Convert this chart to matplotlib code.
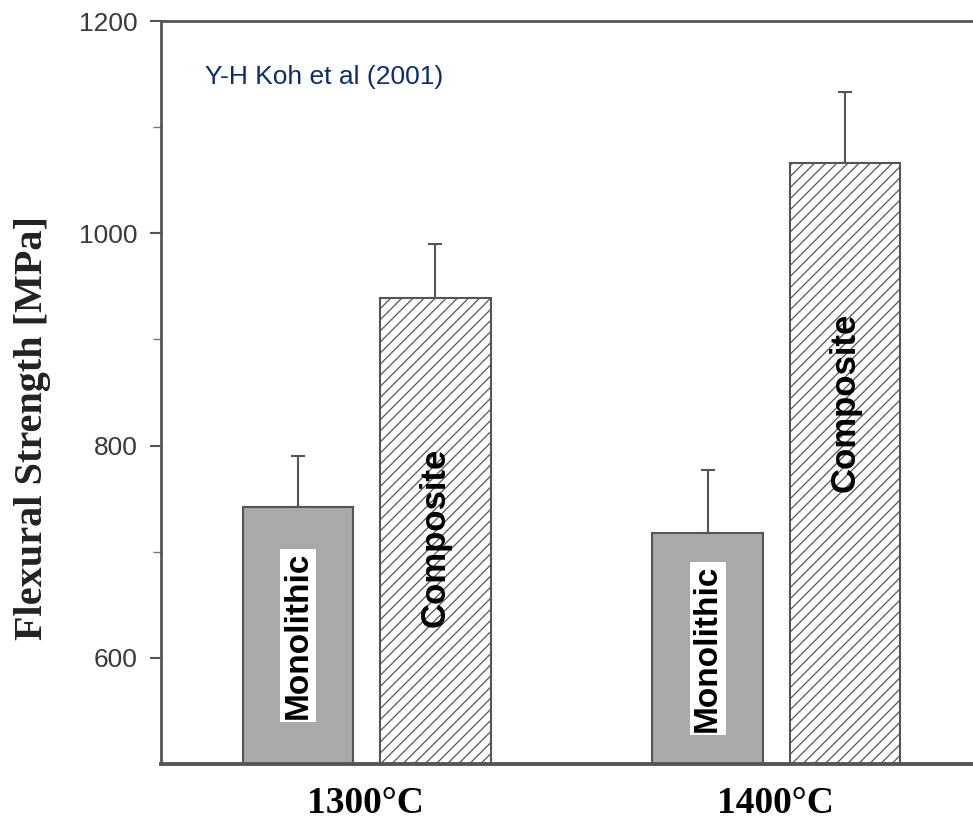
import numpy as np
import matplotlib
matplotlib.use('Agg')
import matplotlib.pyplot as plt
from matplotlib import rcParams

rcParams['hatch.linewidth'] = 0.9
rcParams['hatch.color'] = '#555555'

# 数据
temps = ['1300°C', '1400°C']
mono = [742, 718]
mono_err = [48, 59]
comp = [939, 1066]
comp_err = [51, 67]

fig = plt.figure(figsize=(9.73, 8.27), dpi=100)
ax = fig.add_axes([0.1655, 0.0762, 0.8417, 0.8984])

x = np.arange(len(temps))
w = 0.27
x_m = x - 0.165
x_c = x + 0.17

ax.bar(x_m, mono, w, color='#a9a9a9', edgecolor='#555555', linewidth=1.5, zorder=2)
ax.bar(x_c, comp, w, color='white', edgecolor='#555555', linewidth=1.5, hatch='///', zorder=2)
ax.errorbar(x_m, mono, yerr=[np.zeros(2), mono_err], fmt='none', ecolor='#555555',
            elinewidth=1.5, capsize=5, capthick=1.5, zorder=1)
ax.errorbar(x_c, comp, yerr=[np.zeros(2), comp_err], fmt='none', ecolor='#555555',
            elinewidth=1.5, capsize=5, capthick=1.5, zorder=1)

# 柱内文字
for xi, v in zip(x_m, mono):
    ax.text(xi, (500 + v) / 2, 'Monolithic', rotation=90, ha='center', va='center',
            fontsize=24, fontweight='bold', family='Liberation Sans', color='black',
            bbox=dict(facecolor='white', edgecolor='none', pad=2), zorder=3)
for xi, v in zip(x_c, comp):
    ax.text(xi, v - 225, 'Composite', rotation=90, ha='center', va='center',
            fontsize=25, fontweight='bold', family='Liberation Sans', color='black', zorder=3)

ax.set_xlim(-0.5, 1.5)
ax.set_ylim(500, 1200)
ax.set_xticks(x)
ax.set_xticklabels(temps, family='Liberation Serif', fontweight='bold', fontsize=27)
ax.tick_params(axis='x', length=0, pad=16)
ax.set_yticks([600, 800, 1000, 1200])
ax.set_yticks([700, 900, 1100], minor=True)
ax.tick_params(axis='y', which='major', length=8, width=1.5, color='#555555', pad=9,
               labelsize=19, labelcolor='#3a3a3a')
ax.tick_params(axis='y', which='minor', length=6, width=1.0, color='#777777')
for lab in ax.get_yticklabels():
    lab.set_family('Liberation Sans')

for s in ax.spines.values():
    s.set_color('#555555')
    s.set_linewidth(2)
ax.spines['bottom'].set_linewidth(2.8)
ax.spines['right'].set_visible(False)

fig.text(33 / 973, 1 - 428 / 827, 'Flexural Strength [MPa]', rotation=90,
         ha='center', va='center', family='Liberation Serif', fontweight='bold',
         fontsize=29, color='#222222')

fig.text(205 / 973, 1 - 77 / 827, 'Y-H Koh et al (2001)', ha='left', va='center',
         family='Liberation Sans', fontsize=19, color='#0c2d6b')

fig.savefig('out.png', dpi=100)
